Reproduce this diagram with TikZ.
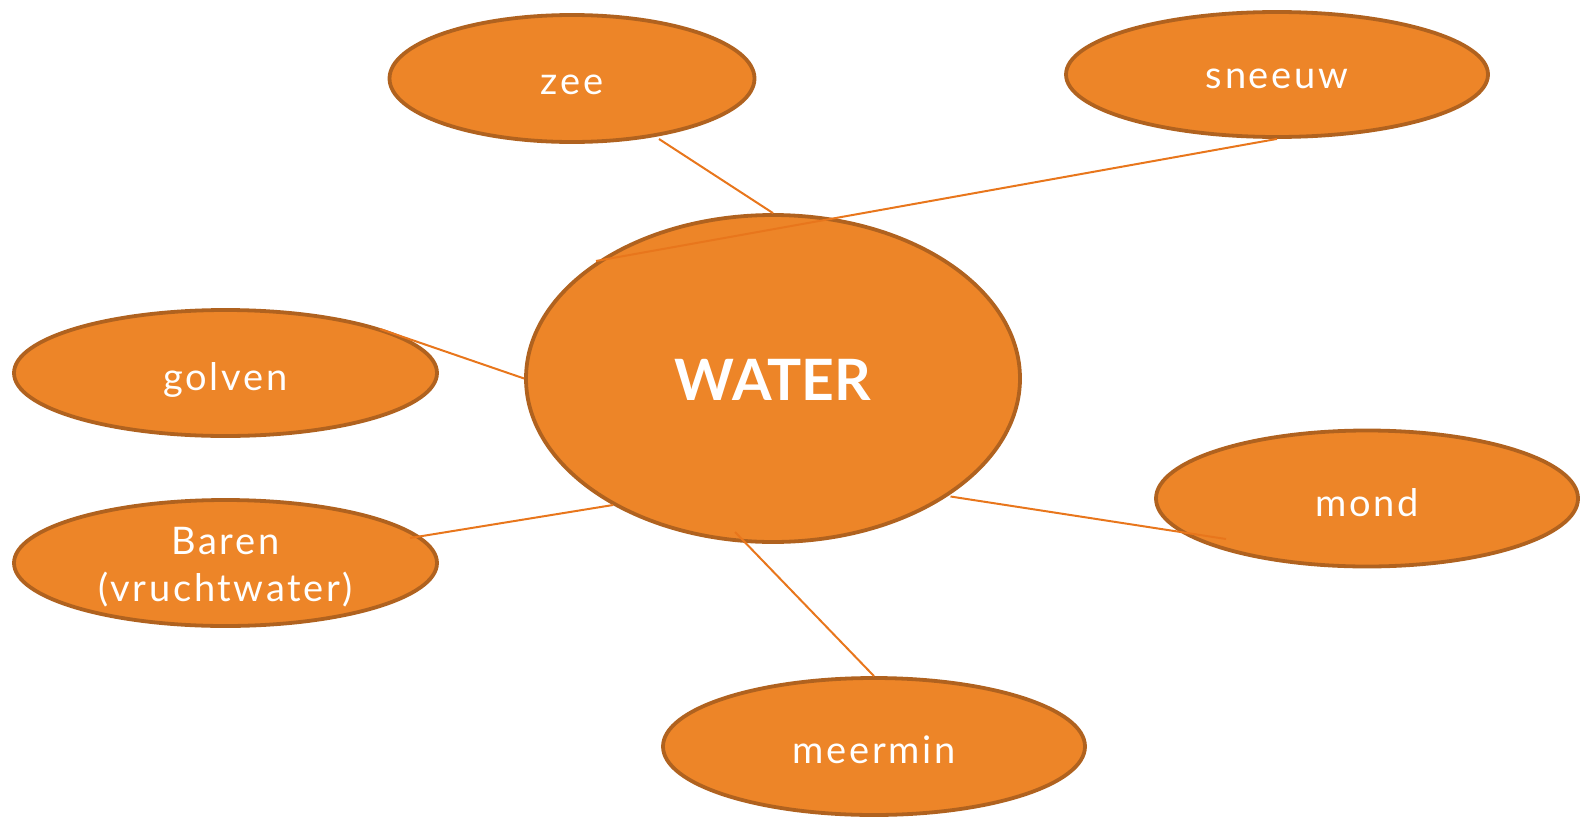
\documentclass[tikz,border=0pt]{standalone}
\usepackage{fontspec}
\setmainfont{Lato}
\usetikzlibrary{shapes.geometric}
\definecolor{fillor}{HTML}{ED8528}
\definecolor{edgeor}{HTML}{B0621F}
\definecolor{lineor}{HTML}{E8761C}
\newcommand{\lowr}[2][-5pt]{\raisebox{#1}[\height][\depth]{#2}}
\begin{document}
\begin{tikzpicture}[x=1pt,y=-1pt,
  bubble/.style={ellipse, fill=fillor, draw=edgeor, line width=3.8pt, inner sep=0pt,
    text=white, align=center,
    font=\fontsize{38}{47}\selectfont\addfontfeatures{LetterSpace=7}},
  hub/.style={bubble, font=\fontsize{57}{64}\selectfont\bfseries},
  link/.style={draw=lineor, line width=2pt}]
\useasboundingbox (0,0) rectangle (1589,819);
\node[bubble, minimum width=365pt, minimum height=127pt] (zee) at (572,78.5) {\lowr[-6pt]{zee}};
\node[bubble, minimum width=422pt, minimum height=125pt] (sneeuw) at (1277,74.5) {\lowr[-4pt]{sneeuw}};
\node[hub, minimum width=494pt, minimum height=327pt] (water) at (773,378.5) {\lowr[-1pt]{WATER}};
\node[bubble, minimum width=423pt, minimum height=126pt] (golven) at (225.5,373) {\lowr[-7pt]{golven}};
\node[bubble, minimum width=423pt, minimum height=126pt] (baren) at (225.5,563) {\lowr[-4pt]{Baren}\\\lowr[-4pt]{(vruchtwater)}};
\node[bubble, minimum width=422pt, minimum height=136pt] (mond) at (1367,498.5) {\lowr[-4pt]{mond}};
\node[bubble, minimum width=422pt, minimum height=137pt] (meermin) at (874,746.5) {\lowr[-3pt]{meermin}};
\coordinate (zeeEnd) at (659,139);
\coordinate (sneeuwEnd) at (596,261);
\coordinate (golvenEnd) at (380,329);
\coordinate (barenEnd) at (410,538);
\coordinate (barenW) at (613,505);
\coordinate (mondW) at (950.5,496.5);
\coordinate (mondEnd) at (1226,539);
\coordinate (meerW) at (735,532);
\draw[link] (zeeEnd) -- (water.north);
\draw[link] (sneeuw.south) -- (sneeuwEnd);
\draw[link] (golvenEnd) -- (water.west);
\draw[link] (barenEnd) -- (barenW);
\draw[link] (mondW) -- (mondEnd);
\draw[link] (meerW) -- (meermin.north);
\end{tikzpicture}
\end{document}
